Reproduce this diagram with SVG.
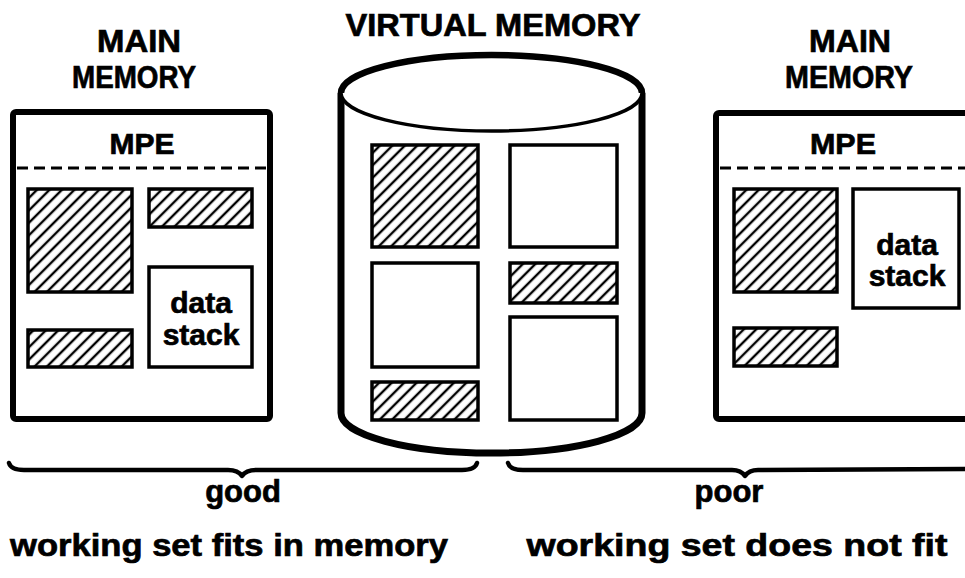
<svg xmlns="http://www.w3.org/2000/svg" width="965" height="578" viewBox="0 0 965 578">
  <defs>
    <pattern id="hatch" width="8.8" height="8.8" patternUnits="userSpaceOnUse" patternTransform="rotate(45)">
      <line x1="2" y1="0" x2="2" y2="8.8" stroke="#000" stroke-width="2.4"/>
    </pattern>
    <style>
      .lbl { font-family: "Liberation Sans", Arial, sans-serif; font-weight: bold; fill: #000; stroke: #000; stroke-width: 0.7; text-anchor: middle; }
      .head { font-size: 32px; }
      .small { font-size: 30px; }
      .cap { font-size: 31px; }
      .note { font-size: 32px; }
      .box { fill: #fff; stroke: #000; stroke-width: 6; }
      .seg { stroke: #000; stroke-width: 3.5; }
      .hatched { fill: url(#hatch); }
      .plain { fill: #fff; }
      .dash { stroke: #000; stroke-width: 3; stroke-dasharray: 11 6; fill: none; }
      .brace { fill: none; stroke: #000; stroke-width: 4.5; stroke-linejoin: round; stroke-linecap: round; }
    </style>
  </defs>
  <rect width="965" height="578" fill="#fff"/>

  <!-- Headings -->
  <g id="heading-left">
    <text class="lbl head" x="139" y="52" textLength="84" lengthAdjust="spacingAndGlyphs">MAIN</text>
    <text class="lbl head" x="134" y="88" textLength="124" lengthAdjust="spacingAndGlyphs">MEMORY</text>
  </g>
  <g id="heading-virtual">
    <text class="lbl head" x="493" y="36" textLength="295" lengthAdjust="spacingAndGlyphs">VIRTUAL MEMORY</text>
  </g>
  <g id="heading-right">
    <text class="lbl head" x="850" y="52" textLength="82" lengthAdjust="spacingAndGlyphs">MAIN</text>
    <text class="lbl head" x="849" y="88" textLength="128" lengthAdjust="spacingAndGlyphs">MEMORY</text>
  </g>

  <!-- Main memory, good case -->
  <g id="main-memory-good">
    <rect class="box" x="13" y="112" width="257" height="307" rx="3"/>
    <line class="dash" x1="17" y1="168" x2="268" y2="168"/>
    <text class="lbl small" x="142" y="154" textLength="65" lengthAdjust="spacingAndGlyphs">MPE</text>
    <rect class="seg hatched" x="28" y="189" width="104" height="103"/>
    <rect class="seg hatched" x="149" y="189" width="103" height="38"/>
    <rect class="seg plain" x="149" y="267" width="103" height="100"/>
    <text class="lbl small" x="201" y="313">data</text>
    <text class="lbl small" x="201" y="345">stack</text>
    <rect class="seg hatched" x="28" y="330" width="104" height="37"/>
  </g>

  <!-- Virtual memory drum -->
  <g id="virtual-memory">
    <path d="M341,93 L341,413 A150.5,40 0 0 0 642,413 L642,93" fill="#fff" stroke="#000" stroke-width="7"/>
    <ellipse cx="491.5" cy="93" rx="150.5" ry="38" fill="#fff" stroke="#000" stroke-width="3.5"/>
    <path d="M341,93 A150.5,38 0 0 1 642,93" fill="none" stroke="#000" stroke-width="6.5"/>
    <rect class="seg hatched" x="372" y="145" width="106" height="102"/>
    <rect class="seg plain" x="510" y="145" width="107" height="102"/>
    <rect class="seg plain" x="372" y="263" width="106" height="104"/>
    <rect class="seg hatched" x="510" y="263" width="107" height="40"/>
    <rect class="seg hatched" x="372" y="382" width="106" height="38"/>
    <rect class="seg plain" x="510" y="317" width="107" height="103"/>
  </g>

  <!-- Main memory, poor case -->
  <g id="main-memory-poor">
    <rect class="box" x="716" y="113" width="300" height="306" rx="3"/>
    <line class="dash" x1="720" y1="168" x2="965" y2="168"/>
    <text class="lbl small" x="843" y="154" textLength="66" lengthAdjust="spacingAndGlyphs">MPE</text>
    <rect class="seg hatched" x="734" y="189" width="103" height="103"/>
    <rect class="seg plain" x="853" y="189" width="106" height="119"/>
    <text class="lbl small" x="907" y="255">data</text>
    <text class="lbl small" x="907" y="286">stack</text>
    <rect class="seg hatched" x="734" y="328" width="103" height="38"/>
  </g>

  <!-- Braces -->
  <g id="connectors">
    <path class="brace" d="M9,463 Q11,470 24,470 L228,470 Q238,470 242,476 Q246,470 256,470 L462,470 Q475,470 477,463"/>
    <path class="brace" d="M508,463 Q510,470 523,470 L732,470 Q741,470 745,476 Q749,470 758,470 L968,469"/>
  </g>

  <!-- Captions -->
  <g id="caption-good">
    <text class="lbl cap" x="243" y="502">good</text>
    <text class="lbl note" x="229" y="556" textLength="438" lengthAdjust="spacingAndGlyphs">working set fits in memory</text>
  </g>
  <g id="caption-poor">
    <text class="lbl cap" x="729" y="502">poor</text>
    <text class="lbl note" x="737" y="556" textLength="421" lengthAdjust="spacingAndGlyphs">working set does not fit</text>
  </g>
</svg>
